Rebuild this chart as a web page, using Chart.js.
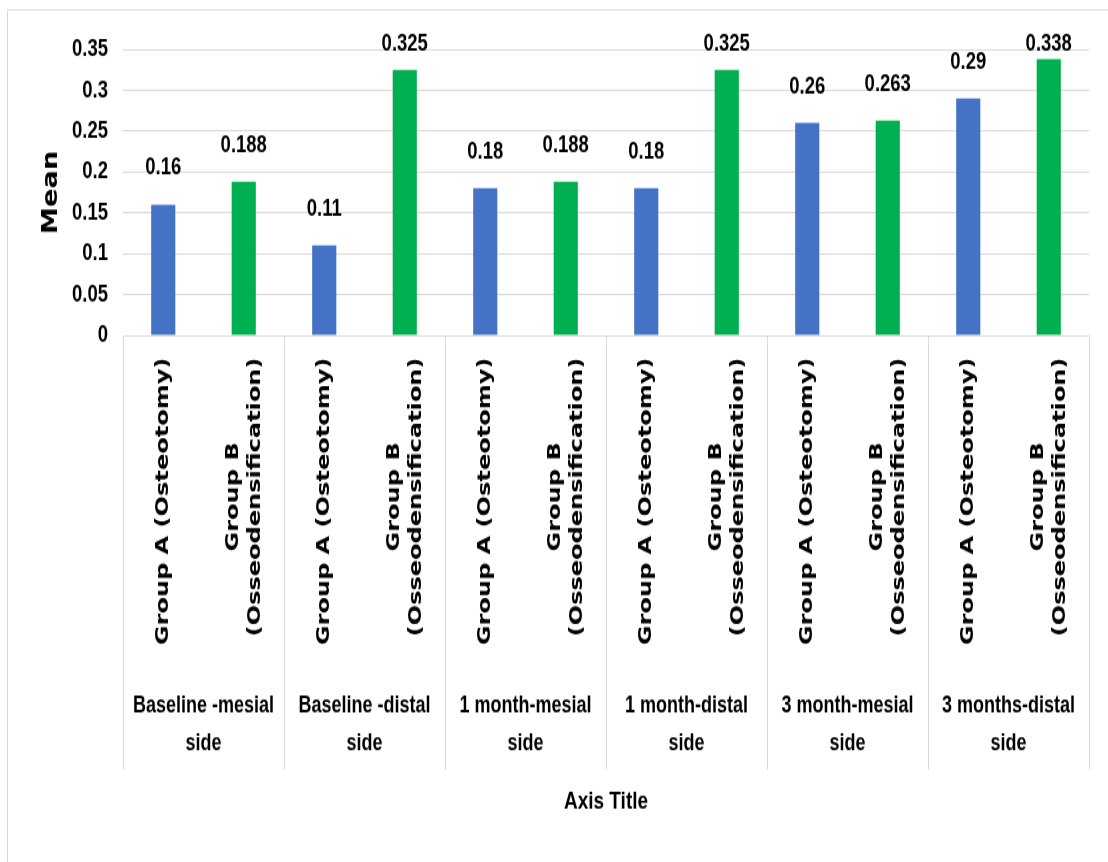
<!DOCTYPE html>
<html>
<head>
<meta charset="utf-8">
<script src="https://cdn.jsdelivr.net/npm/chart.js@4.4.1/dist/chart.umd.min.js"></script>
<style>
  html, body { margin: 0; padding: 0; background: #fff; }
  body { width: 1108px; height: 862px; }
  /* the source picture is an Excel chart stretched 1.3x vertically */
  #wrap { width: 1108px; height: 663px; position: relative; transform: scaleY(1.3); transform-origin: 0 0; }
</style>
</head>
<body>
<div id="wrap"><canvas id="mean-chart"></canvas></div>
<script>
const categories = [
  ["Baseline -mesial", "side"],
  ["Baseline -distal", "side"],
  ["1 month-mesial", "side"],
  ["1 month-distal", "side"],
  ["3 month-mesial", "side"],
  ["3 months-distal", "side"],
];
const groupA = [0.16, 0.11, 0.18, 0.18, 0.26, 0.29];
const groupB = [0.188, 0.325, 0.188, 0.325, 0.263, 0.338];
const seriesNames = [["Group A (Osteotomy)"], ["Group B", "(Osseodensification)"]];
const seriesColors = ["#4472c4", "#00b050"];
const yTickLabels = ["0", "0.05", "0.1", "0.15", "0.2", "0.25", "0.3", "0.35"];

const SANS = "'Liberation Sans', Arial, sans-serif";
const WIDE = "'DejaVu Sans', Verdana, sans-serif";
const GRID = "#d9d9d9";

// ── 外框、分隔線、旋轉標籤、數值標籤 ──────────────────────────────────────────

const excelBits = {
  id: "excelBits",
  beforeDraw(chart) {
    const { ctx } = chart;
    ctx.save();
    ctx.strokeStyle = GRID;
    ctx.lineWidth = 1;
    ctx.strokeRect(7.5, 7.5, chart.width, chart.height);
    ctx.restore();
  },
  afterDatasetsDraw(chart) {
    const { ctx, chartArea, scales: { x } } = chart;

    ctx.save();
    ctx.strokeStyle = GRID;
    ctx.lineWidth = 1;
    for (let i = 0; i <= categories.length; i++) {
      const px = Math.round(x.getPixelForValue(i - 0.5)) + 0.5;
      ctx.beginPath();
      ctx.moveTo(px, chartArea.bottom);
      ctx.lineTo(px, chartArea.bottom + 334);
      ctx.stroke();
    }

    ctx.fillStyle = "#000";
    ctx.textAlign = "center";
    ctx.textBaseline = "middle";
    ctx.font = `bold 18.5px ${WIDE}`;
    chart.data.datasets.forEach((ds, d) => {
      const lines = seriesNames[d];
      const len = Math.max(...lines.map(l => ctx.measureText(l).width));
      chart.getDatasetMeta(d).data.forEach(bar => {
        ctx.save();
        ctx.translate(bar.x, chartArea.bottom + 17 + len / 2);
        ctx.rotate(-Math.PI / 2);
        lines.forEach((line, k) => ctx.fillText(line, 0, (k - (lines.length - 1) / 2) * 22));
        ctx.restore();
      });
    });

    ctx.font = `bold 18.5px ${SANS}`;
    ctx.textBaseline = "alphabetic";
    chart.data.datasets.forEach((ds, d) => {
      chart.getDatasetMeta(d).data.forEach((bar, i) => {
        const y = Math.max(bar.y - 23, chartArea.top + 1);
        ctx.fillText(String(ds.data[i]), bar.x, y);
      });
    });
    ctx.restore();
  },
};

new Chart(document.getElementById("mean-chart"), {
  type: "bar",
  data: {
    labels: categories,
    datasets: [
      { label: seriesNames[0].join(" "), data: groupA, backgroundColor: seriesColors[0], borderWidth: 0 },
      { label: seriesNames[1].join(" "), data: groupB, backgroundColor: seriesColors[1], borderWidth: 0 },
    ],
  },
  options: {
    responsive: true,
    maintainAspectRatio: false,
    animation: false,
    categoryPercentage: 1.0,
    barPercentage: 0.3,
    layout: { padding: { top: 38, right: 19, left: 0, bottom: 0 } },
    plugins: { legend: { display: false }, tooltip: { enabled: false } },
    scales: {
      x: {
        grid: { display: false },
        border: { display: false },
        ticks: {
          color: "#000",
          maxRotation: 0,
          autoSkip: false,
          padding: 263,
          font: { family: SANS, size: 18, weight: "bold", lineHeight: "29px" },
        },
        title: {
          display: true,
          text: "Axis Title",
          color: "#000",
          font: { family: SANS, size: 19, weight: "bold" },
          padding: { top: 0, bottom: 35 },
        },
        afterFit(scale) {
          scale.height = 405;
          scale.paddingLeft = 0;
          scale.paddingRight = 0;
        },
      },
      y: {
        min: 0,
        max: 0.35,
        grid: { color: GRID, drawTicks: false },
        border: { display: false },
        ticks: {
          stepSize: 0.05,
          color: "#000",
          padding: 15,
          font: { family: SANS, size: 18.5, weight: "bold" },
          callback: (v, i) => yTickLabels[i] ?? v,
        },
        title: {
          display: true,
          text: "Mean",
          color: "#000",
          font: { family: WIDE, size: 21, weight: "bold" },
          padding: { top: 39, bottom: 0 },
        },
        afterFit(scale) { scale.width = 123; },
      },
    },
  },
  plugins: [excelBits],
});
</script>
</body>
</html>
